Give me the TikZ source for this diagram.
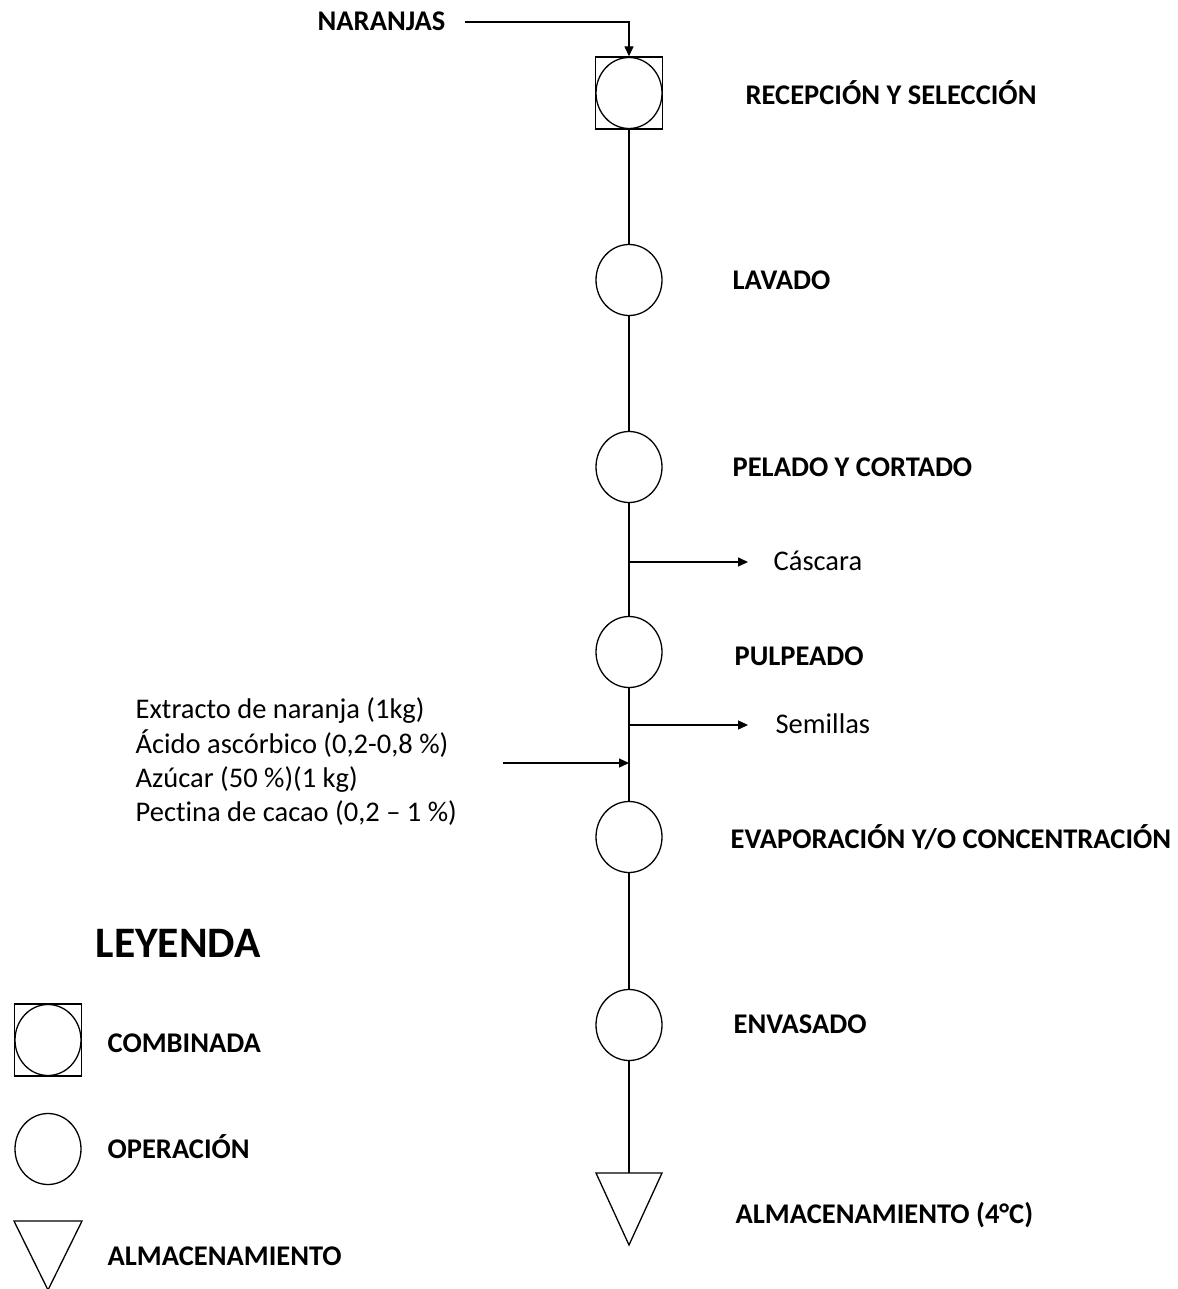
\documentclass[tikz,border=0pt]{standalone}
\usepackage{fontspec}
\setmainfont{Carlito}[Ligatures={NoCommon,NoDiscretionary}]
\usetikzlibrary{arrows.meta,shapes.geometric}
\begin{document}
\begin{tikzpicture}[x=1pt,y=-1pt,
  line width=1.3pt,
  op/.style={draw,ellipse,minimum width=66pt,minimum height=71pt,inner sep=0pt},
  combo/.style={draw,rectangle,minimum width=67pt,minimum height=72pt,inner sep=0pt},
  lbl/.style={anchor=base west,font=\fontsize{28.5}{34}\selectfont\bfseries,inner sep=0pt},
  txt/.style={anchor=base west,font=\fontsize{28.5}{34}\selectfont,inner sep=0pt},
  arr/.style={-{Triangle[length=10pt,width=9pt]}}]
\useasboundingbox (0,0) rectangle (1177,1289);
% main flow
\node[combo] (s1) at (629,93) {};
\node[op] (c1) at (629,93) {};
\node[op] (c2) at (629,280) {};
\node[op] (c3) at (629,467) {};
\node[op] (c4) at (629,652) {};
\node[op] (c5) at (629,837) {};
\node[op] (c6) at (629,1025) {};
\coordinate (t1) at (596,1173);
\coordinate (t2) at (662,1173);
\coordinate (t3) at (629,1245);
\coordinate (ttop) at (629,1173);
\draw (t1) -- (t2) -- (t3) -- cycle;
\draw (s1.south) -- (c2.north);
\draw (c2.south) -- (c3.north);
\draw (c3.south) -- (c4.north);
\draw (c4.south) -- (c5.north);
\draw (c5.south) -- (c6.north);
\draw (c6.south) -- (ttop);
% labels
\node[lbl] (l1) at (745,105) {RECEPCIÓN Y SELECCIÓN};
\node[lbl] (l2) at (732,289) {LAVADO};
\node[lbl] (l3) at (732,476) {PELADO Y CORTADO};
\node[lbl] (l4) at (734,665) {PULPEADO};
\node[lbl] (l5) at (730,848) {EVAPORACIÓN Y/O CONCENTRACIÓN};
\node[lbl] (l6) at (733,1033) {ENVASADO};
\node[lbl] (l7) at (735,1223) {ALMACENAMIENTO (4°C)};
% input naranjas
\node[lbl] (nar) at (317,31) {NARANJAS};
\coordinate (narstart) at (465,22);
\draw[arr] (narstart) -| (s1.north);
% outputs
\coordinate (b1) at (629,562);
\coordinate (b2) at (629,725);
\coordinate (e1) at (748,562);
\coordinate (e2) at (748,725);
\node[txt] (cas) at (773,570) {Cáscara};
\node[txt] (sem) at (775,733) {Semillas};
\draw[arr] (b1) -- (e1);
\draw[arr] (b2) -- (e2);
% input ingredients
\node[txt] (ing1) at (135,718) {Extracto de naranja (1kg)};
\node[txt] (ing2) at (135,753) {Ácido ascórbico (0,2-0,8 \%)};
\node[txt] (ing3) at (135,787) {Azúcar (50 \%)(1 kg)};
\node[txt] (ing4) at (135,821) {Pectina de cacao (0,2 -- 1 \%)};
\coordinate (inps) at (503,763);
\coordinate (inp) at (629,763);
\draw[arr] (inps) -- (inp);
% legend
\node[anchor=base west,inner sep=0pt,font=\fontsize{43.5}{50}\selectfont\bfseries] (ley) at (95,957) {LEYENDA};
\node[combo] (ls) at (48,1040) {};
\node[op] (lc) at (48,1040) {};
\node[lbl] (lt1) at (107,1052) {COMBINADA};
\node[op] (lo) at (48,1149) {};
\node[lbl] (lt2) at (107,1158) {OPERACIÓN};
\coordinate (u1) at (14,1221);
\coordinate (u2) at (82,1221);
\coordinate (u3) at (48,1290);
\draw (u1) -- (u2) -- (u3) -- cycle;
\node[lbl] (lt3) at (107,1265) {ALMACENAMIENTO};
\end{tikzpicture}
\end{document}
